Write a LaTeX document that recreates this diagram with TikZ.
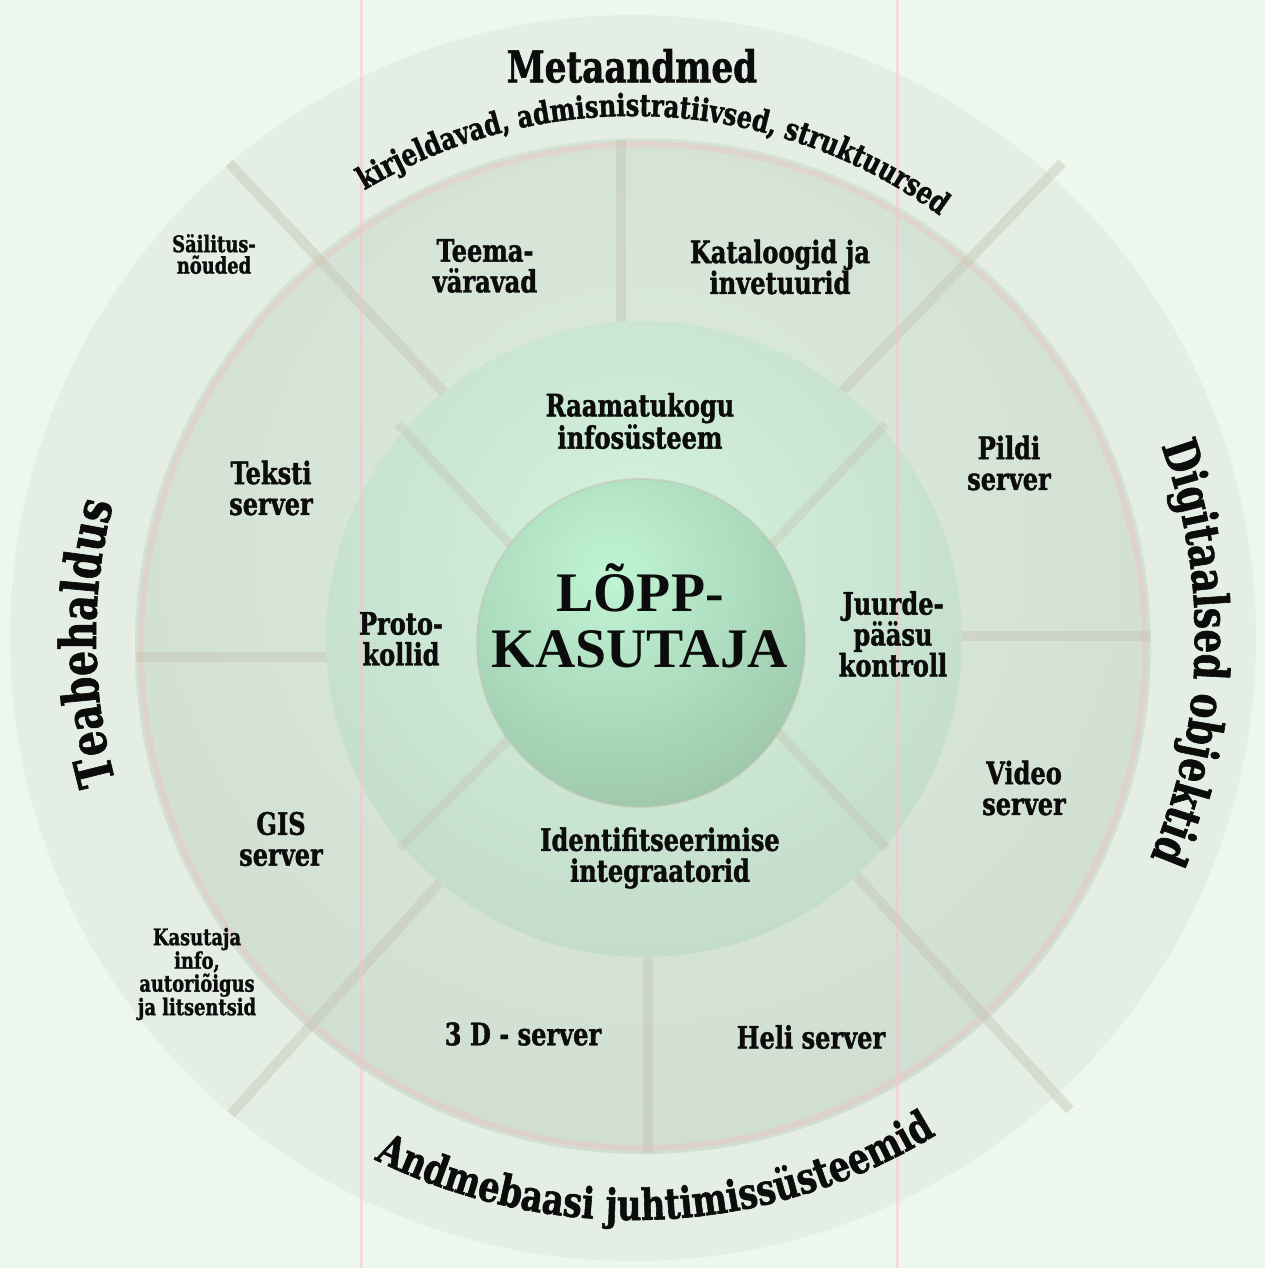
\documentclass[tikz,border=0pt]{standalone}
\usepackage{fontspec}
\newfontfamily\fat{DejaVu Serif}[FakeStretch=0.78, BoldFeatures={FakeBold=1.3}]
\newfontfamily\corefont{Liberation Serif}
\usetikzlibrary{decorations.text}
\definecolor{bgc}{RGB}{238,247,238}
\definecolor{bandA}{RGB}{228,238,228}
\definecolor{bandBl}{RGB}{220,236,222}
\definecolor{bandBd}{RGB}{208,222,210}
\definecolor{ringCl}{RGB}{212,243,222}
\definecolor{ringCd}{RGB}{195,219,202}
\definecolor{coreL}{RGB}{192,244,212}
\definecolor{coreD}{RGB}{156,198,170}
\definecolor{divc}{RGB}{196,194,176}
\definecolor{pinkc}{RGB}{236,196,194}
\definecolor{guide}{RGB}{244,196,206}
\definecolor{txt}{RGB}{12,12,12}
\begin{document}
\begin{tikzpicture}[x=1bp,y=1bp,
  lbl/.style={align=center, inner sep=0pt, text=txt, font=\fat\bfseries\fontsize{31}{31}\selectfont},
  sml/.style={align=center, inner sep=0pt, text=txt, font=\fat\bfseries\fontsize{23}{21.5}\selectfont},
  ttl/.style={align=center, inner sep=0pt, text=txt, font=\fat\bfseries\fontsize{44}{44}\selectfont},
  divo/.style={line width=10bp, draw=divc, draw opacity=0.42},
  divi/.style={line width=9bp, draw=divc, draw opacity=0.38},
  arctext/.style={decorate, decoration={text along path, text align=center, text color=txt, text={#1}}}
]
\useasboundingbox (0,0) rectangle (1265,-1268);
\fill[bgc] (0,0) rectangle (1265,-1268);
\coordinate (C0) at (633,-638);
\coordinate (C1) at (643,-646);
\coordinate (C2) at (644,-639);
\coordinate (C3) at (641,-643);
% outer band
\fill[bandA] (C0) circle[radius=623];
% second band
\begin{scope}
  \clip (C1) circle[radius=508];
  \shade[inner color=bandBl, outer color=bandBd] (640,-540) circle[radius=640];
\end{scope}
\draw[pinkc, draw opacity=0.45, line width=6bp] (C1) circle[radius=502];
% outer diagonals
\coordinate (dTLa) at (229,-163); \coordinate (dTLb) at (450,-399);
\coordinate (dTRa) at (1062,-163); \coordinate (dTRb) at (835,-399);
\coordinate (dBLa) at (231,-1114); \coordinate (dBLb) at (443,-879);
\coordinate (dBRa) at (1070,-1110); \coordinate (dBRb) at (852,-871);
\draw[divo] (dTLa) -- (dTLb);
\draw[divo] (dTRa) -- (dTRb);
\draw[divo] (dBLa) -- (dBLb);
\draw[divo] (dBRa) -- (dBRb);
% cross dividers in second band
\coordinate (vTa) at (621,-140); \coordinate (vTb) at (621,-335);
\coordinate (vBa) at (648,-945); \coordinate (vBb) at (648,-1153);
\coordinate (hLa) at (136,-657); \coordinate (hLb) at (335,-657);
\coordinate (hRa) at (955,-636); \coordinate (hRb) at (1150,-636);
\draw[divo] (vTa) -- (vTb);
\draw[divo] (vBa) -- (vBb);
\draw[divo] (hLa) -- (hLb);
\draw[divo] (hRa) -- (hRb);
% third ring
\begin{scope}
  \clip (C2) circle[radius=318];
  \shade[inner color=ringCl, outer color=ringCd] (635,-560) circle[radius=420];
\end{scope}
% inner diagonals
\coordinate (iTLa) at (398,-424); \coordinate (iTLb) at (520,-555);
\coordinate (iTRa) at (886,-424); \coordinate (iTRb) at (765,-552);
\coordinate (iBLa) at (400,-848); \coordinate (iBLb) at (518,-730);
\coordinate (iBRa) at (886,-848); \coordinate (iBRb) at (768,-722);
\draw[divi] (iTLa) -- (iTLb);
\draw[divi] (iTRa) -- (iTRb);
\draw[divi] (iBLa) -- (iBLb);
\draw[divi] (iBRa) -- (iBRb);
% core
\begin{scope}
  \clip (C3) circle[radius=164];
  \shade[inner color=coreL, outer color=coreD] (612,-575) circle[radius=250];
\end{scope}
\draw[draw=divc, draw opacity=0.5, line width=2bp] (C3) circle[radius=164];
% guide lines
\coordinate (g1a) at (361,0); \coordinate (g1b) at (361,-1268);
\coordinate (g2a) at (897,0); \coordinate (g2b) at (897,-1268);
\draw[guide, draw opacity=0.5, line width=3bp] (g1a) -- (g1b);
\draw[guide, draw opacity=0.5, line width=3bp] (g2a) -- (g2b);
% outer ring titles
\node[ttl] (meta) at (632,-66) {Metaandmed};
\path[arctext={|\fat\bfseries\fontsize{31}{31}\selectfont|kirjeldavad, admisnistratiivsed, struktuursed}]
  ([shift={(124:522)}]C0) arc[start angle=124, end angle=51, radius=522];
\path[arctext={|\fat\bfseries\fontsize{43}{43}\selectfont|Andmebaasi juhtimissüsteemid}]
  ([shift={(242:582)}]C0) arc[start angle=242, end angle=303, radius=582];
\path[arctext={|\fat\bfseries\fontsize{51}{51}\selectfont|Teabehaldus}]
  ([shift={(197:537)}]C0) arc[start angle=197, end angle=164, radius=537];
\path[arctext={|\fat\bfseries\fontsize{48}{48}\selectfont|Digitaalsed objektid}]
  ([shift={(23:562)}]C0) arc[start angle=23, end angle=-26, radius=562];
% labels
\node[sml] (sail) at (214,-254) {Säilitus-\\nõuded};
\node[lbl] (teema) at (485,-266) {Teema-\\väravad};
\node[lbl] (katal) at (780,-267) {Kataloogid ja\\invetuurid};
\node[lbl] (raam) at (640,-421) {Raamatukogu\\infosüsteem};
\node[lbl] (teksti) at (271,-488) {Teksti\\server};
\node[lbl] (pildi) at (1009,-463) {Pildi\\server};
\node[lbl] (proto) at (401,-639) {Proto-\\kollid};
\node[inner sep=0pt, text=txt, font=\corefont\bfseries\fontsize{56}{56}\selectfont] (core) at (640,-624)
  {\begin{tabular}{@{}c@{}}LÕPP-\\KASUTAJA\end{tabular}};
\node[lbl] (juurde) at (893,-634) {Juurde-\\pääsu\\kontroll};
\node[lbl] (video) at (1024,-788) {Video\\server};
\node[lbl] (gis) at (281,-839) {GIS\\server};
\node[lbl] (ident) at (660,-858) {Identifitseerimise\\integraatorid};
\node[sml] (kasut) at (197,-974) {Kasutaja\\info,\\autoriõigus\\ja litsentsid};
\node[lbl] (three) at (523,-1034) {3 D - server};
\node[lbl] (heli) at (811,-1037) {Heli server};
\end{tikzpicture}
\end{document}
